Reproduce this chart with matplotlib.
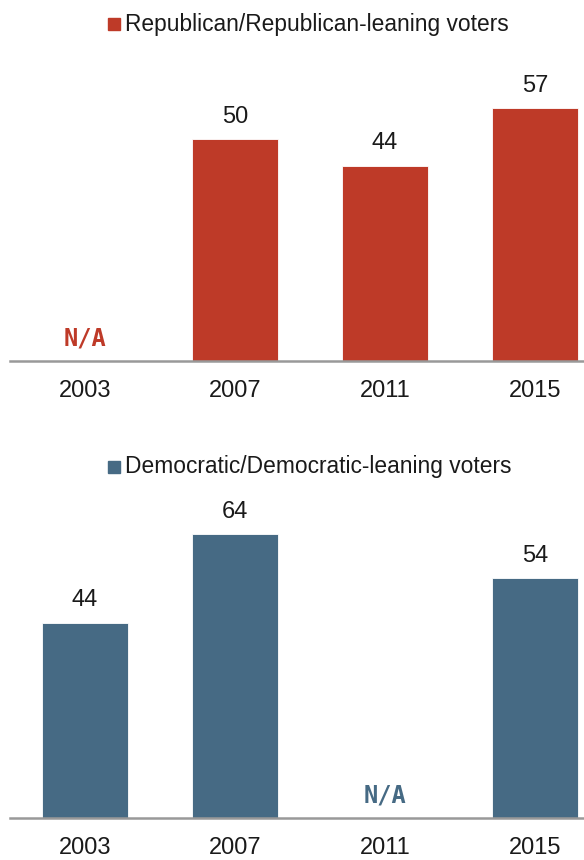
import matplotlib.pyplot as plt
from matplotlib.patches import Rectangle

# survey years and shares (N/A years are None)
years = ['2003', '2007', '2011', '2015']
rep_values = [None, 50, 44, 57]
dem_values = [44, 64, None, 54]
rep_label = 'Republican/Republican-leaning voters'
dem_label = 'Democratic/Democratic-leaning voters'

red = '#BE3A28'
blue = '#466A84'

plt.rcParams['font.family'] = ['Liberation Sans', 'DejaVu Sans']

fig = plt.figure(figsize=(5.84, 8.6), dpi=100)
W, H = 584, 860


def panel(rect, values, color, legend, legend_y):
    ax = fig.add_axes(rect)
    xs = range(len(years))
    for x, v in zip(xs, values):
        if v is None:
            ax.text(x, 2.4, 'N/A', ha='center', va='bottom', fontsize=17,
                    fontweight='bold', color=color, family='DejaVu Sans Mono')
            continue
        ax.bar(x, v, width=0.57, color=color, edgecolor='white', linewidth=0.6)
        ax.text(x, v + 2.5, str(v), ha='center', va='bottom', fontsize=17,
                color='#1a1a1a')
    ax.set_xlim(-0.5, 3.327)
    ax.set_ylim(0, 70)
    ax.set_xticks(list(xs))
    ax.set_xticklabels(years, fontsize=17, color='#1a1a1a')
    ax.tick_params(axis='x', length=0, pad=13.5)
    ax.set_yticks([])
    for s in ['top', 'right', 'left']:
        ax.spines[s].set_visible(False)
    ax.spines['bottom'].set_color('#999999')
    ax.spines['bottom'].set_linewidth(1.8)
    # legend: square + label
    fig.patches.append(Rectangle((108 / W, 1 - (legend_y + 6) / H), 12 / W, 12 / H,
                                 transform=fig.transFigure, color=color))
    fig.text(125 / W, 1 - legend_y / H, legend, fontsize=16.4, color='#1a1a1a',
             ha='left', va='center')
    return ax


h = 311 / H
panel([10 / W, (H - 361) / H, 574 / W, h], rep_values, red, rep_label, 24)
panel([10 / W, (H - 818) / H, 574 / W, h], dem_values, blue, dem_label, 467)

fig.savefig('out.png', dpi=100)
